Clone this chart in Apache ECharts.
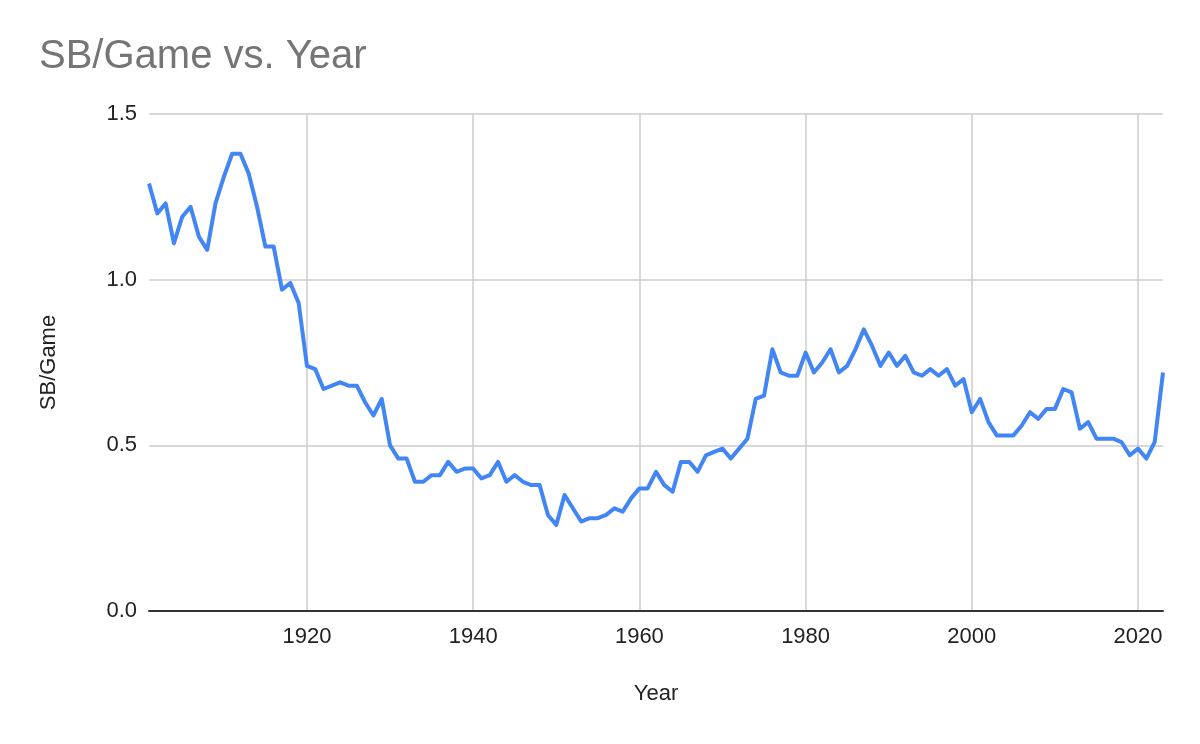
<!DOCTYPE html>
<html>
<head>
<meta charset="utf-8">
<title>SB/Game vs. Year</title>
<script src="https://cdn.jsdelivr.net/npm/echarts@6/dist/echarts.min.js"></script>
<style>
    html, body { margin: 0; padding: 0; background: #fff; }
    #chart { width: 1200px; height: 744px; }
</style>
</head>
<body>
<div id="chart"></div>
<script>
    // stolen bases per game, one value per season
    const years = [
        1901, 1902, 1903, 1904, 1905, 1906, 1907, 1908, 1909, 1910,
        1911, 1912, 1913, 1914, 1915, 1916, 1917, 1918, 1919, 1920,
        1921, 1922, 1923, 1924, 1925, 1926, 1927, 1928, 1929, 1930,
        1931, 1932, 1933, 1934, 1935, 1936, 1937, 1938, 1939, 1940,
        1941, 1942, 1943, 1944, 1945, 1946, 1947, 1948, 1949, 1950,
        1951, 1952, 1953, 1954, 1955, 1956, 1957, 1958, 1959, 1960,
        1961, 1962, 1963, 1964, 1965, 1966, 1967, 1968, 1969, 1970,
        1971, 1972, 1973, 1974, 1975, 1976, 1977, 1978, 1979, 1980,
        1981, 1982, 1983, 1984, 1985, 1986, 1987, 1988, 1989, 1990,
        1991, 1992, 1993, 1994, 1995, 1996, 1997, 1998, 1999, 2000,
        2001, 2002, 2003, 2004, 2005, 2006, 2007, 2008, 2009, 2010,
        2011, 2012, 2013, 2014, 2015, 2016, 2017, 2018, 2019, 2020,
        2021, 2022, 2023
    ];
    const sbPerGame = [
        1.29, 1.20, 1.23, 1.11, 1.19, 1.22, 1.13, 1.09, 1.23, 1.31,
        1.38, 1.38, 1.32, 1.22, 1.10, 1.10, 0.97, 0.99, 0.93, 0.74,
        0.73, 0.67, 0.68, 0.69, 0.68, 0.68, 0.63, 0.59, 0.64, 0.50,
        0.46, 0.46, 0.39, 0.39, 0.41, 0.41, 0.45, 0.42, 0.43, 0.43,
        0.40, 0.41, 0.45, 0.39, 0.41, 0.39, 0.38, 0.38, 0.29, 0.26,
        0.35, 0.31, 0.27, 0.28, 0.28, 0.29, 0.31, 0.30, 0.34, 0.37,
        0.37, 0.42, 0.38, 0.36, 0.45, 0.45, 0.42, 0.47, 0.48, 0.49,
        0.46, 0.49, 0.52, 0.64, 0.65, 0.79, 0.72, 0.71, 0.71, 0.78,
        0.72, 0.75, 0.79, 0.72, 0.74, 0.79, 0.85, 0.80, 0.74, 0.78,
        0.74, 0.77, 0.72, 0.71, 0.73, 0.71, 0.73, 0.68, 0.70, 0.60,
        0.64, 0.57, 0.53, 0.53, 0.53, 0.56, 0.60, 0.58, 0.61, 0.61,
        0.67, 0.66, 0.55, 0.57, 0.52, 0.52, 0.52, 0.51, 0.47, 0.49,
        0.46, 0.51, 0.72
    ];
    const yearTicks = [1920, 1940, 1960, 1980, 2000, 2020];

    const FONT = '"Liberation Sans", Arial, sans-serif';

    const chart = echarts.init(document.getElementById('chart'));
    chart.setOption({
        animation: false,
        title: {
            text: 'SB/Game vs. Year',
            left: 34,
            top: 32,
            textStyle: {
                color: '#757575',
                fontSize: 40,
                fontWeight: 'normal',
                fontFamily: FONT
            }
        },
        grid: {
            left: 149,
            right: 37,
            top: 114,
            bottom: 133,
            containLabel: false,
            outerBoundsMode: 'none'
        },
        xAxis: {
            type: 'value',
            name: 'Year',
            nameLocation: 'middle',
            nameGap: 72,
            nameTextStyle: { color: '#222', fontSize: 22, fontFamily: FONT },
            min: 1901,
            max: 2023,
            axisLine: { show: true, lineStyle: { color: '#333', width: 2 } },
            axisTick: { show: false, customValues: yearTicks },
            axisLabel: {
                customValues: yearTicks,
                margin: 15,
                color: '#222',
                fontSize: 22,
                fontFamily: FONT,
                formatter: v => String(v)
            },
            splitLine: { show: true, lineStyle: { color: '#cccccc', width: 1.5 } }
        },
        yAxis: {
            type: 'value',
            name: 'SB/Game',
            nameLocation: 'middle',
            nameRotate: 90,
            nameGap: 89,
            nameTextStyle: { color: '#222', fontSize: 22, fontFamily: FONT },
            min: 0,
            max: 1.5,
            interval: 0.5,
            axisLine: { show: false },
            axisTick: { show: false },
            axisLabel: {
                margin: 12,
                color: '#222',
                fontSize: 22,
                fontFamily: FONT,
                formatter: v => v.toFixed(1)
            },
            splitLine: { show: true, lineStyle: { color: '#cccccc', width: 1.5 } }
        },
        series: [{
            name: 'SB/Game',
            type: 'line',
            showSymbol: false,
            symbol: 'none',
            lineStyle: { color: '#4285f4', width: 4, join: 'round' },
            data: years.map((y, i) => [y, sbPerGame[i]])
        }]
    });
</script>
</body>
</html>
